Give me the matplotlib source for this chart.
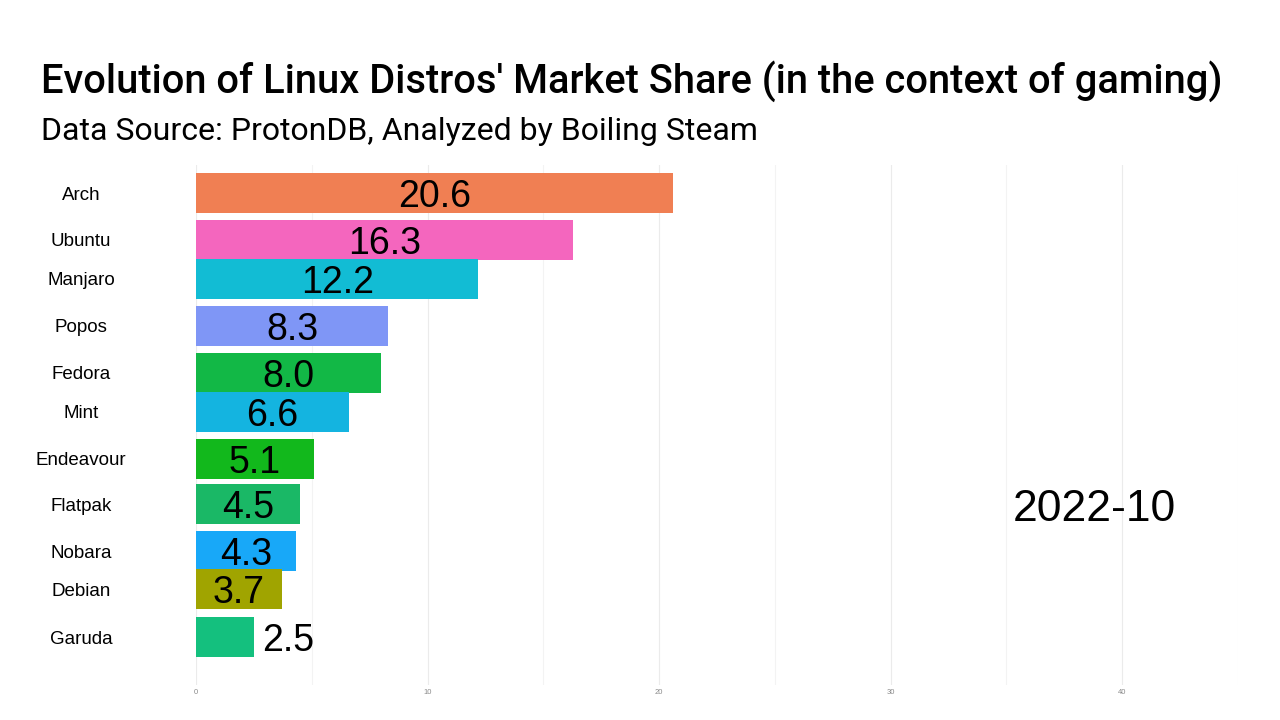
import matplotlib.pyplot as plt
from matplotlib.transforms import blended_transform_factory

# Data (one frame of the animation, 2022-10)
distros = ["Arch", "Ubuntu", "Manjaro", "Popos", "Fedora", "Mint",
           "Endeavour", "Flatpak", "Nobara", "Debian", "Garuda"]
share = [20.6, 16.3, 12.2, 8.3, 8.0, 6.6, 5.1, 4.5, 4.3, 3.7, 2.5]
# ranks are mid-transition in this frame, so they are fractional
rank = [1.0, 2.0, 2.83, 3.83, 4.83, 5.66, 6.66, 7.62, 8.62, 9.43, 10.45]
colors = ["#F07F53", "#F466BE", "#12BCD4", "#7F96F6", "#12B846", "#14B4E0",
          "#12B81C", "#1AB866", "#18A8F8", "#A0A400", "#14C07E"]
period = "2022-10"

fig = plt.figure(figsize=(12.8, 7.2), dpi=100)
ax = fig.add_axes([196 / 1280, 1 - 685 / 720, 1042 / 1280, 520 / 720])

ax.barh(rank, share, height=0.85, color=colors, zorder=2)

# value labels: inside the bar (centred) unless the bar is too short
for r, v in zip(rank, share):
    if v < 3:
        ax.text(v + 0.35, r, f"{v:.1f}", ha="left", va="center_baseline",
                fontsize=27, family="Liberation Sans", zorder=3)
    else:
        ax.text(v / 2, r, f"{v:.1f}", ha="center", va="center_baseline",
                fontsize=27, family="Liberation Sans", zorder=3)

# distro names on the left
trans = blended_transform_factory(ax.transAxes, ax.transData)
for r, name in zip(rank, distros):
    ax.text(-0.1104, r, name, ha="center", va="center_baseline", transform=trans,
            fontsize=13.5, family="Liberation Sans")

ax.set_xlim(0, 45)
ax.set_ylim(11.47, 0.404)
ax.set_xticks([0, 10, 20, 30, 40])
ax.set_xticks([5, 15, 25, 35, 45], minor=True)
ax.set_xticklabels(["0", "10", "20", "30", "40"], fontsize=5.5, color="#8a8a8a",
                   family="Liberation Sans")
ax.tick_params(axis="x", which="both", length=0, pad=3)
ax.set_yticks([])
ax.grid(axis="x", which="major", color="#ebebeb", lw=0.8, zorder=0)
ax.grid(axis="x", which="minor", color="#f3f3f3", lw=0.8, zorder=0)
for s in ax.spines.values():
    s.set_visible(False)

# current period label
ax.text(0.862, 0.346, period, transform=ax.transAxes, ha="center",
        va="center_baseline", fontsize=32, family="Liberation Sans")

fig.text(41 / 1280, 1 - 81 / 720,
         "Evolution of Linux Distros' Market Share (in the context of gaming)",
         ha="left", va="center", fontsize=28.7, fontweight="medium", family="Roboto")
fig.text(41 / 1280, 1 - 131 / 720,
         "Data Source: ProtonDB, Analyzed by Boiling Steam",
         ha="left", va="center", fontsize=23, family="Roboto")

fig.savefig("out.png", dpi=100, facecolor="white")
